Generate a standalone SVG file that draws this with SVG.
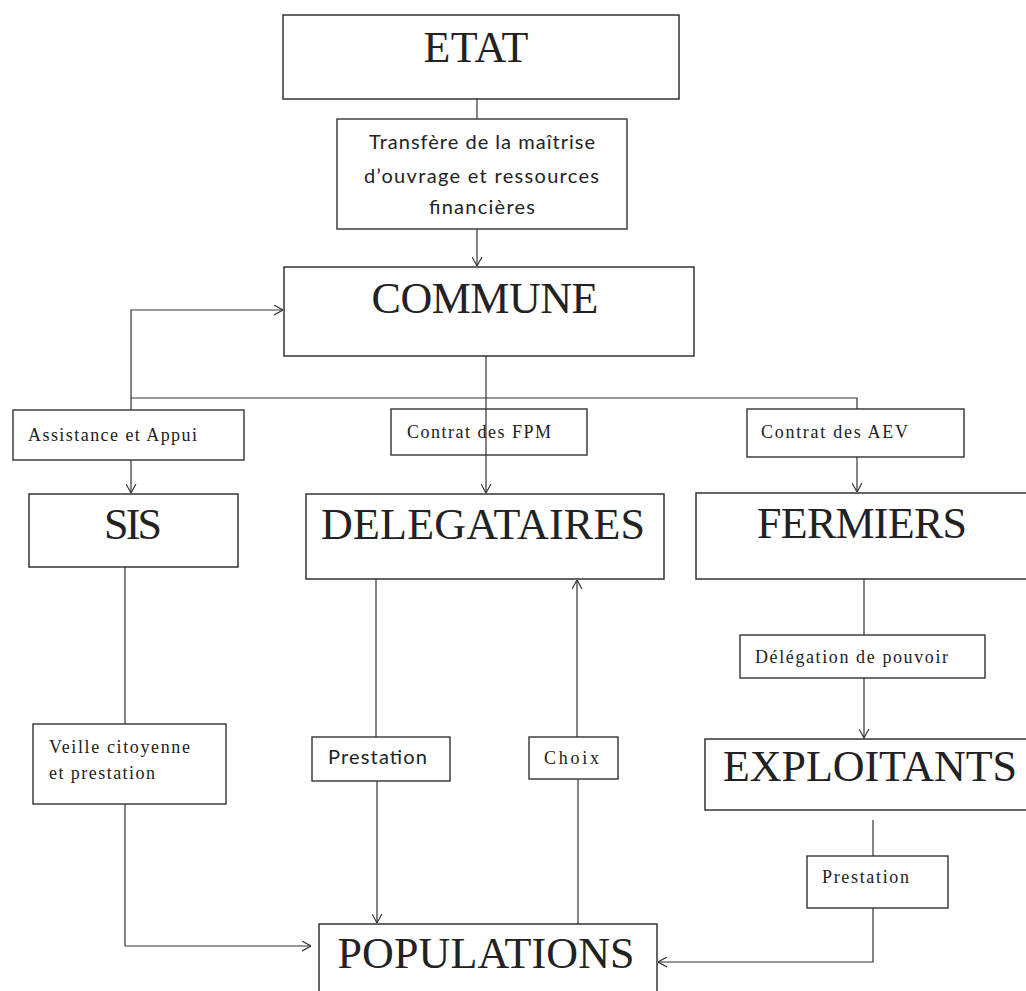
<svg xmlns="http://www.w3.org/2000/svg" width="1026" height="991" viewBox="0 0 1026 991">
<style>
.box{fill:#fff;stroke:#333;stroke-width:1.5}
.lbl{fill:#fff;stroke:#333;stroke-width:1.4}
.big{font-family:"Liberation Serif","Times New Roman",serif;font-size:44px;fill:#222;text-anchor:middle}
.ser{font-family:"Liberation Serif","Times New Roman",serif;font-size:18px;fill:#222}
.sans{font-family:Lato,"Liberation Sans",sans-serif;font-size:20px;fill:#222}
.con{fill:none;stroke:#333;stroke-width:1.2}
</style>
<defs>
<marker id="arr" viewBox="0 0 10 12" refX="10" refY="6" markerWidth="9" markerHeight="11" markerUnits="userSpaceOnUse" orient="auto">
<path d="M0,0.5 L10,6 L0,11.5" fill="none" stroke="#333" stroke-width="1.3"/>
</marker>
</defs>
<rect width="1026" height="991" fill="#fff"/>

<g id="connectors">
<line class="con" x1="477" y1="99" x2="477" y2="119"/>
<line class="con" x1="477" y1="229" x2="477" y2="266" marker-end="url(#arr)"/>
<polyline class="con" points="131,410 131,310 283,310" marker-end="url(#arr)"/>
<polyline class="con" points="131,398 857,398 857,409"/>
<line class="con" x1="131" y1="460" x2="131" y2="493" marker-end="url(#arr)"/>
<line class="con" x1="857" y1="457" x2="857" y2="492" marker-end="url(#arr)"/>
<line class="con" x1="125" y1="567" x2="125" y2="724"/>
<polyline class="con" points="125,804 125,946 311,946" marker-end="url(#arr)"/>
<line class="con" x1="376" y1="579" x2="376" y2="737"/>
<line class="con" x1="377" y1="781" x2="377" y2="923" marker-end="url(#arr)"/>
<line class="con" x1="578" y1="924" x2="578" y2="779"/>
<line class="con" x1="577" y1="737" x2="577" y2="580" marker-end="url(#arr)"/>
<line class="con" x1="864" y1="579" x2="864" y2="635"/>
<line class="con" x1="864" y1="678" x2="864" y2="738" marker-end="url(#arr)"/>
<line class="con" x1="873" y1="820" x2="873" y2="856"/>
<polyline class="con" points="873,908 873,962 658,962" marker-end="url(#arr)"/>
</g>

<g id="etat">
<rect class="box" x="283" y="15" width="396" height="84"/>
<text class="big" x="476" y="62" textLength="105">ETAT</text>
</g>

<g id="transfert">
<rect class="lbl" x="337" y="119" width="290" height="110"/>
<text class="sans" x="369" y="149" textLength="226">Transfère de la maîtrise</text>
<text class="sans" x="364" y="183" textLength="235">d’ouvrage et ressources</text>
<text class="sans" x="429" y="214" textLength="106">financières</text>
</g>

<g id="commune">
<rect class="box" x="284" y="267" width="410" height="89"/>
<text class="big" x="485" y="313" textLength="227">COMMUNE</text>
</g>

<g id="assistance">
<rect class="lbl" x="13" y="410" width="231" height="50"/>
<text class="ser" x="28" y="441" textLength="169">Assistance et Appui</text>
</g>

<g id="contrat-fpm">
<rect class="lbl" x="391" y="409" width="196" height="46"/>
<text class="ser" x="407" y="438" textLength="144">Contrat des FPM</text>
</g>

<g id="contrat-aev">
<rect class="lbl" x="747" y="409" width="217" height="48"/>
<text class="ser" x="761" y="438" textLength="147">Contrat des AEV</text>
</g>

<line class="con" x1="486" y1="356" x2="486" y2="493" marker-end="url(#arr)"/>

<g id="sis">
<rect class="box" x="29" y="494" width="209" height="73"/>
<text class="big" x="133" y="539" textLength="58">SIS</text>
</g>

<g id="delegataires">
<rect class="box" x="306" y="494" width="358" height="85"/>
<text class="big" x="483" y="539" textLength="324">DELEGATAIRES</text>
</g>

<g id="fermiers">
<rect class="box" x="696" y="493" width="340" height="86"/>
<text class="big" x="862" y="538" textLength="210">FERMIERS</text>
</g>

<g id="veille">
<rect class="lbl" x="33" y="724" width="193" height="80"/>
<text class="ser" x="49" y="753" textLength="141">Veille citoyenne</text>
<text class="ser" x="49" y="779" textLength="106">et prestation</text>
</g>

<g id="prestation-1">
<rect class="lbl" x="312" y="737" width="138" height="44"/>
<text class="sans" x="328" y="764" font-size="19" textLength="99">Prestation</text>
</g>

<g id="choix">
<rect class="lbl" x="529" y="737" width="89" height="42"/>
<text class="ser" x="544" y="764" textLength="55">Choix</text>
</g>

<g id="delegation">
<rect class="lbl" x="740" y="635" width="245" height="43"/>
<text class="ser" x="755" y="663" textLength="193">Délégation de pouvoir</text>
</g>

<g id="exploitants">
<rect class="box" x="705" y="739" width="335" height="71"/>
<text class="big" x="870" y="781" textLength="294">EXPLOITANTS</text>
</g>

<g id="prestation-2">
<rect class="lbl" x="807" y="856" width="141" height="52"/>
<text class="ser" x="822" y="883" font-size="17" textLength="87">Prestation</text>
</g>

<g id="populations">
<rect class="box" x="319" y="924" width="338" height="80"/>
<text class="big" x="486" y="968" textLength="297">POPULATIONS</text>
</g>
</svg>
